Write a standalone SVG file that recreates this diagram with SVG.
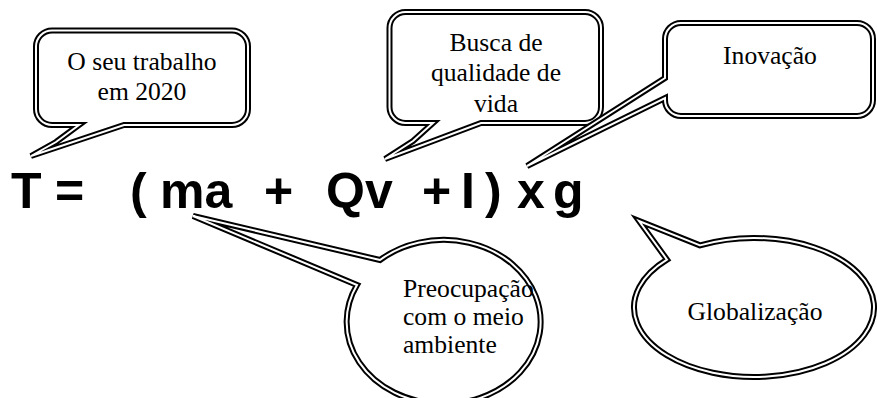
<svg xmlns="http://www.w3.org/2000/svg" xmlns:xlink="http://www.w3.org/1999/xlink" width="877" height="398" viewBox="0 0 877 398">
<style>
.o{fill:#fff;stroke:#000;stroke-width:6;stroke-linejoin:miter}
.i{fill:none;stroke:#fff;stroke-width:2;stroke-linejoin:miter}
.t{font-family:"Liberation Serif","Times New Roman",serif;font-size:25.6px;fill:#000}
.c{text-anchor:middle}
.f{font-family:"Liberation Sans",Arial,sans-serif;font-weight:bold;font-size:50px;fill:#000}
</style>
<defs>
<path id="p1" d="M52,30.5 H232 A16 16 0 0 1 248,46.5 V109 A16 16 0 0 1 232,125 H124 L31,156 L56,142 L79,125 H52 A16 16 0 0 1 36,109 V46.5 A16 16 0 0 1 52,30.5 Z"/>
<path id="p2" d="M405.5,12 H585 A16 16 0 0 1 601,28 V107 A16 16 0 0 1 585,123 H481 L385,159 L413,141 L433,123 H405.5 A16 16 0 0 1 389.5,107 V28 A16 16 0 0 1 405.5,12 Z"/>
<path id="p3" d="M681,23 H857 A16 16 0 0 1 873,39 V100 A16 16 0 0 1 857,116 H681 A16 16 0 0 1 665,100 V98 L527,166 L665,78 V39 A16 16 0 0 1 681,23 Z"/>
<path id="p4" d="M380,260 L193,216 L357,285 A97 82 0 1 0 380,260 Z"/>
<path id="p5" d="M700,245.4 L639,221 L667,259.6 A120 69.5 0 1 0 700,245.4 Z"/>
</defs>
<g id="formula">
<text class="f" x="11" y="208">T</text>
<text class="f" x="55" y="208">=</text>
<text class="f" x="130" y="208">(</text>
<text class="f" x="160" y="208">ma</text>
<text class="f" x="264" y="208">+</text>
<text class="f" x="326" y="208">Qv</text>
<text class="f" x="422" y="208">+</text>
<text class="f" x="461" y="208">I</text>
<text class="f" x="485" y="208">)</text>
<text class="f" x="517" y="208">x</text>
<text class="f" x="553" y="208">g</text>
</g>
<g id="callout-trabalho">
<use xlink:href="#p1" class="o"/><use xlink:href="#p1" class="i"/>
<text class="t c" x="142" y="70">O seu trabalho</text>
<text class="t c" x="142" y="100">em 2020</text>
</g>
<g id="callout-qualidade">
<use xlink:href="#p2" class="o"/><use xlink:href="#p2" class="i"/>
<text class="t c" x="496" y="50.5">Busca de</text>
<text class="t c" x="496" y="81">qualidade de</text>
<text class="t c" x="496" y="111.5">vida</text>
</g>
<g id="callout-inovacao">
<use xlink:href="#p3" class="o"/><use xlink:href="#p3" class="i"/>
<text class="t c" x="770" y="64">Inovação</text>
</g>
<g id="callout-meio-ambiente">
<use xlink:href="#p4" class="o"/><use xlink:href="#p4" class="i"/>
<text class="t" x="403" y="297">Preocupação</text>
<text class="t" x="403" y="325">com o meio</text>
<text class="t" x="403" y="353">ambiente</text>
</g>
<g id="callout-globalizacao">
<use xlink:href="#p5" class="o"/><use xlink:href="#p5" class="i"/>
<text class="t c" x="755" y="320">Globalização</text>
</g>
<g id="connectors"/>
</svg>
